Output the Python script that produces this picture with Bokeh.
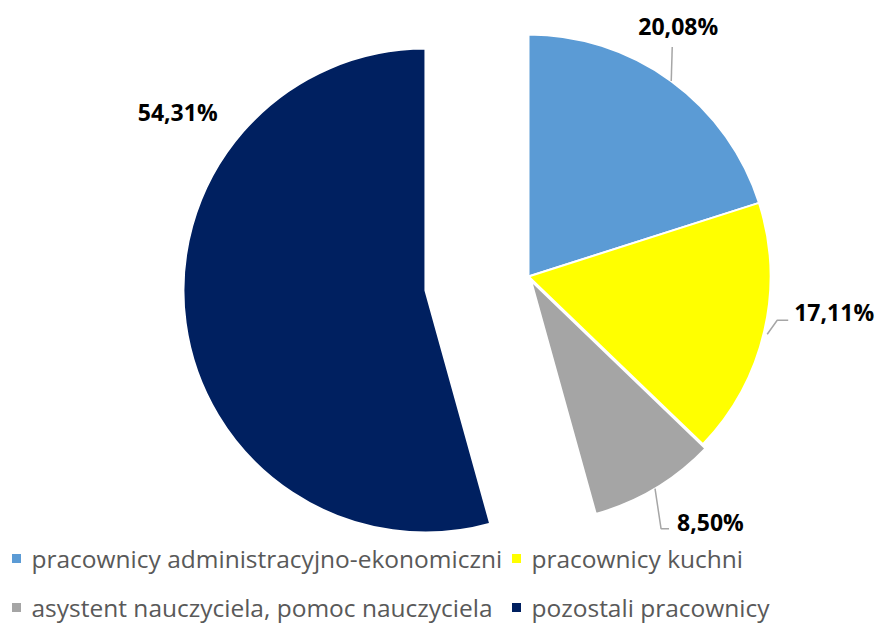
import math
from bokeh.plotting import figure
from bokeh.models import Range1d
from bokeh.core.properties import value
from bokeh.embed import file_html
from bokeh.resources import INLINE

# ---- data ----
categories = ["pracownicy administracyjno-ekonomiczni", "pracownicy kuchni",
              "asystent nauczyciela, pomoc nauczyciela", "pozostali pracownicy"]
values = [20.08, 17.11, 8.50, 54.31]
labels = ["20,08%", "17,11%", "8,50%", "54,31%"]
colors = ["#5B9BD5", "#FFFF00", "#A5A5A5", "#002060"]

# ---- layout (screen-pixel based, y converted) ----
W, H = 878, 623
def sy(Y):
    return H - Y

CX, CY = 528, sy(276)
R = 242
explode = [0, 0, 5, 104]

p = figure(width=W, height=H, output_backend="svg", toolbar_location=None,
           x_range=Range1d(0, W), y_range=Range1d(0, H),
           min_border=0, tools="")
p.axis.visible = False
p.grid.visible = False
p.outline_line_color = None
p.background_fill_color = "white"
p.border_fill_color = "white"

total = sum(values)
cum = 0.0
mids = []
for i, v in enumerate(values):
    a = cum / total
    b = (cum + v) / total
    cum += v
    start = math.pi / 2 - 2 * math.pi * a
    end = math.pi / 2 - 2 * math.pi * b
    mid = (start + end) / 2
    cx = CX + explode[i] * math.cos(mid)
    cy = CY + explode[i] * math.sin(mid)
    p.wedge(x=[cx], y=[cy], radius=R, start_angle=start, end_angle=end,
            direction="clock", fill_color=colors[i], line_color="white",
            line_width=2)
    mids.append((cx + R * math.cos(mid), cy + R * math.sin(mid)))

# leader lines (screen offsets from arc mid-point) and label anchors
leaders = [
    [(0, 0), (1, -34)],
    [(3, 3), (13, -11), (24, -11)],
    [(0, 0), (6, 40), (14, 40)],
    None,
]
label_off = [(7, -55), (30, -19), (22, 33), (-8, -211)]
label_align = ["center", "left", "left", "center"]

for i in range(4):
    mx, my = mids[i]
    if leaders[i]:
        xs = [mx + dx for dx, dy in leaders[i]]
        ys = [my - dy for dx, dy in leaders[i]]
        p.line(xs, ys, line_color="#A6A6A6", line_width=1.5)
    ox, oy = label_off[i]
    p.text(x=[mx + ox], y=[my - oy], text=[labels[i]],
           text_font=value("Open Sans"), text_font_style="bold",
           text_font_size="23px", text_color="black",
           text_align=label_align[i], text_baseline="middle")

# legend
leg_x = [16, 516, 16, 516]
leg_y = [sy(558), sy(558), sy(607), sy(607)]
p.rect(x=leg_x, y=leg_y, width=9, height=9, fill_color=colors,
       line_color=None)
p.text(x=[x + 15 for x in leg_x], y=leg_y, text=categories,
       text_font=value("Open Sans"), text_font_size="24.5px",
       text_color="#595959", text_align="left", text_baseline="middle")

open("out.html", "w").write(file_html(p, INLINE))
